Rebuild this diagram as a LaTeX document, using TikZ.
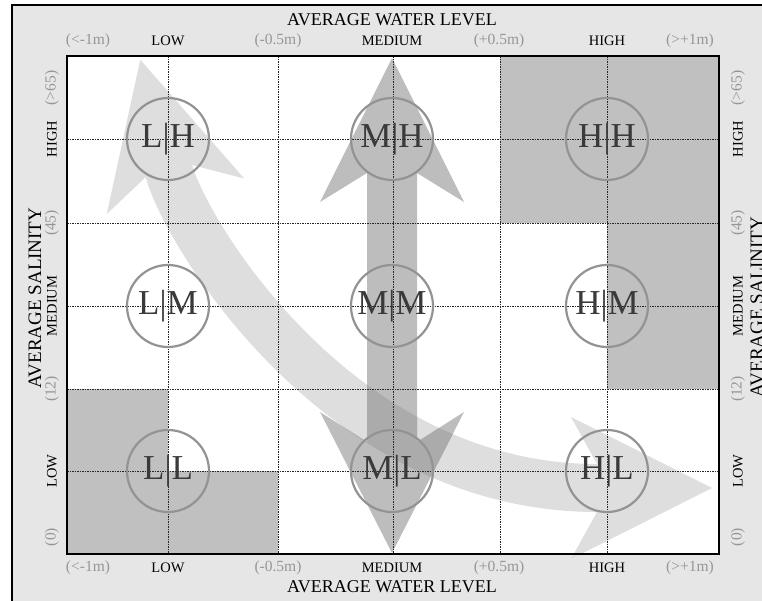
\documentclass[tikz,border=0pt]{standalone}
\usepackage{fontspec}
\newfontfamily\timesfont{Liberation Serif}
\definecolor{bgframe}{HTML}{E6E6E6}
\definecolor{cellgray}{HTML}{C0C0C0}
\definecolor{vgray}{HTML}{BDBDBD}
\definecolor{cgray}{HTML}{DEDEDE}
\definecolor{ovgray}{HTML}{ABABAB}
\definecolor{circgray}{HTML}{939393}
\definecolor{lettergray}{HTML}{3A3A3A}
\definecolor{numgray}{HTML}{969696}
\begin{document}
\begin{tikzpicture}[x=1pt,y=-1pt,
  cellcirc/.style={circle, draw=circgray, line width=2.2pt, minimum size=82pt, inner sep=0pt, text=lettergray, font=\timesfont\fontsize{35}{35}\selectfont},
  numlab/.style={text=numgray, font=\timesfont\fontsize{15.5}{15.5}\selectfont, inner sep=0pt},
  wordlab/.style={font=\timesfont\fontsize{14.5}{14.5}\selectfont, inner sep=0pt},
  titlelab/.style={font=\timesfont\fontsize{18}{18}\selectfont, inner sep=0pt},
  sidetitle/.style={font=\timesfont\fontsize{19}{19}\selectfont, inner sep=0pt, rotate=90},
  gridline/.style={dash pattern=on 1.5pt off 1pt, line width=0.9pt, black!85},
  cshaft/.style={line width=48pt, line cap=butt}
]
\useasboundingbox (0,0) rectangle (762,600);
\clip (0,0) rectangle (762,600);
\fill[white] (0,0) rectangle (762,600);
\draw[line width=1.2pt, fill=bgframe] (12,5) rectangle (780,620);
% plot area
\fill[white] (67,56) rectangle (719,554);
% gray cells
\fill[cellgray] (67,389) rectangle (168,554);
\fill[cellgray] (168,471) rectangle (278,554);
\fill[cellgray] (500,56) rectangle (719,223);
\fill[cellgray] (607,223) rectangle (719,389);
% curved arrow
\coordinate (cE) at (169,171);
\coordinate (cS) at (597,488);
\draw[cgray, cshaft] (168.0,167) -- (cE) .. controls (184,229) and (337,488) .. (cS) -- (601,488);
\fill[cgray] (712,488) -- (571,417) -- (597,464) -- (597,512) -- (571,559) -- cycle;
\fill[cgray] (140.25,59.7) -- (244.2,178.5) -- (192.2,165) -- (145.8,177) -- (106.8,213.9) -- cycle;
% vertical arrow
\fill[vgray] (392,58) -- (464,202) -- (417,173) -- (417,442) -- (464,412) -- (392,553)
  -- (320,412) -- (367,442) -- (367,173) -- (320,202) -- cycle;
\begin{scope}
\clip (392,58) -- (464,202) -- (417,173) -- (417,442) -- (464,412) -- (392,553)
  -- (320,412) -- (367,442) -- (367,173) -- (320,202) -- cycle;
\draw[ovgray, cshaft] (cE) .. controls (184,229) and (337,488) .. (cS);
\end{scope}
% grid
\foreach \gx in {168,278,393,500,607} \draw[gridline] (\gx,56) -- (\gx,554);
\foreach \gy in {139,223,306,389,471} \draw[gridline] (67,\gy) -- (719,\gy);
\draw[line width=1.3pt] (67,56) rectangle (719,554);
% circles
\node[cellcirc] (LH) at (168,139) {L|H};
\node[cellcirc] (MH) at (392,139) {M|H};
\node[cellcirc] (HH) at (607,139) {H|H};
\node[cellcirc] (LM) at (168,306) {L|M};
\node[cellcirc] (MM) at (392,306) {M|M};
\node[cellcirc] (HM) at (607,306) {H|M};
\node[cellcirc] (LL) at (168,471) {L|L};
\node[cellcirc] (ML) at (392,471) {M|L};
\node[cellcirc] (HL) at (607,471) {H|L};
% top and bottom labels
\node[titlelab] (ttop) at (392,20) {AVERAGE WATER LEVEL};
\node[titlelab] (tbot) at (392,587) {AVERAGE WATER LEVEL};
\foreach \yy/\nm in {41/t,568/b}{
  \node[numlab] (\nm a) at (88,\yy) {(<-1m)};
  \node[wordlab] (\nm b) at (168,\yy) {LOW};
  \node[numlab] (\nm c) at (278,\yy) {(-0.5m)};
  \node[wordlab] (\nm d) at (392,\yy) {MEDIUM};
  \node[numlab] (\nm e) at (499,\yy) {(+0.5m)};
  \node[wordlab] (\nm f) at (607,\yy) {HIGH};
  \node[numlab] (\nm g) at (690,\yy) {(>+1m)};
}
% side labels
\node[sidetitle] (tleft) at (35,298) {AVERAGE SALINITY};
\node[sidetitle] (tright) at (757,307) {AVERAGE SALINITY};
\foreach \xx/\nm in {52/l,738/r}{
  \node[numlab, rotate=90] (\nm a) at (\xx,88) {(>65)};
  \node[wordlab, rotate=90] (\nm b) at (\xx,139) {HIGH};
  \node[numlab, rotate=90] (\nm c) at (\xx,223) {(45)};
  \node[wordlab, rotate=90] (\nm d) at (\xx,306) {MEDIUM};
  \node[numlab, rotate=90] (\nm e) at (\xx,389) {(12)};
  \node[wordlab, rotate=90] (\nm f) at (\xx,471) {LOW};
  \node[numlab, rotate=90] (\nm g) at (\xx,537) {(0)};
}
\end{tikzpicture}
\end{document}
